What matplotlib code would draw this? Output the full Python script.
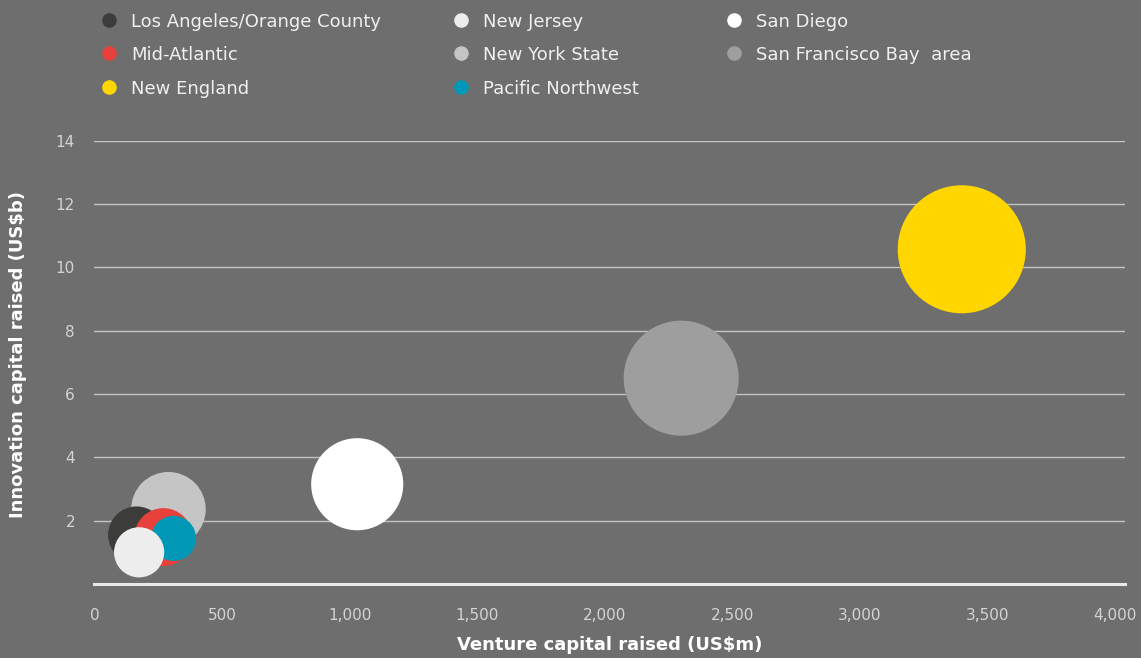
import numpy as np
import matplotlib
matplotlib.use("Agg")
import matplotlib.pyplot as plt
from matplotlib.lines import Line2D
from matplotlib.ticker import FuncFormatter

# regions, in legend order
regions = ["Los Angeles/Orange County", "Mid-Atlantic", "New England",
           "New Jersey", "New York State", "Pacific Northwest",
           "San Diego", "San Francisco Bay  area"]
venture_capital = [165, 270, 3400, 175, 290, 310, 1030, 2300]      # US$m
innovation_capital = [1.55, 1.48, 10.57, 1.0, 2.36, 1.44, 3.15, 6.5]  # US$b
bubble_value = [8.1, 8.4, 41.0, 6.3, 13.9, 5.1, 21.2, 33.1]

colors = ["#3c3c3a", "#e8403a", "#ffd600", "#ededed",
          "#c5c5c5", "#0098b6", "#ffffff", "#9e9e9e"]

# back-to-front drawing order for the overlapping cluster
draw_order = [4, 0, 1, 5, 3, 6, 7, 2]

bg = "#6e6e6e"
tick_col = "#d4d4d4"

fig = plt.figure(figsize=(11.41, 6.58), dpi=100, facecolor=bg)
ax = fig.add_axes([0.0828, 0.1125, 0.9032, 0.6737], facecolor=bg)

scale = 207.36
for k in draw_order:
    ax.scatter(venture_capital[k], innovation_capital[k],
               s=bubble_value[k] * scale, color=colors[k],
               edgecolors="none", zorder=3, clip_on=False)

ax.set_xlim(0, 4040)
ax.set_ylim(0, 14)
ax.set_xticks(np.arange(0, 4001, 500))
ax.set_yticks(np.arange(2, 15, 2))
ax.xaxis.set_major_formatter(FuncFormatter(lambda v, p: f"{int(v):,}"))

ax.grid(axis="y", color="#c4c4c4", linewidth=1.0, zorder=1)
for side in ["top", "right", "left"]:
    ax.spines[side].set_visible(False)
ax.spines["bottom"].set_color("#e8e8e8")
ax.spines["bottom"].set_linewidth(2.2)
ax.spines["bottom"].set_zorder(2)

ax.tick_params(axis="both", length=0, labelsize=11, labelcolor=tick_col)
ax.tick_params(axis="x", pad=17)
ax.tick_params(axis="y", pad=14)

ax.set_xlabel("Venture capital raised (US$m)", fontsize=13,
              fontweight="bold", color="white")
ax.xaxis.set_label_coords(0.5, -0.118)
ax.set_ylabel("Innovation capital raised (US$b)", fontsize=13,
              fontweight="bold", color="white")
ax.yaxis.set_label_coords(-0.0655, 0.518)

# legend: three columns, filled top to bottom
col_x = [109, 461, 734]
row_y = [20, 53, 87]
W, H = fig.get_size_inches() * fig.dpi
for n, (name, c) in enumerate(zip(regions, colors)):
    cx = col_x[n // 3]
    cy = row_y[n % 3]
    fig.add_artist(Line2D([cx / W], [1 - cy / H], linestyle="none",
                          marker="o", markersize=10.5, markerfacecolor=c,
                          markeredgecolor="none", transform=fig.transFigure))
    fig.text((cx + 22) / W, 1 - cy / H, name, fontsize=13, color="#f0f0f0",
             ha="left", va="center_baseline")

fig.savefig("out.png", dpi=100, facecolor=bg)
